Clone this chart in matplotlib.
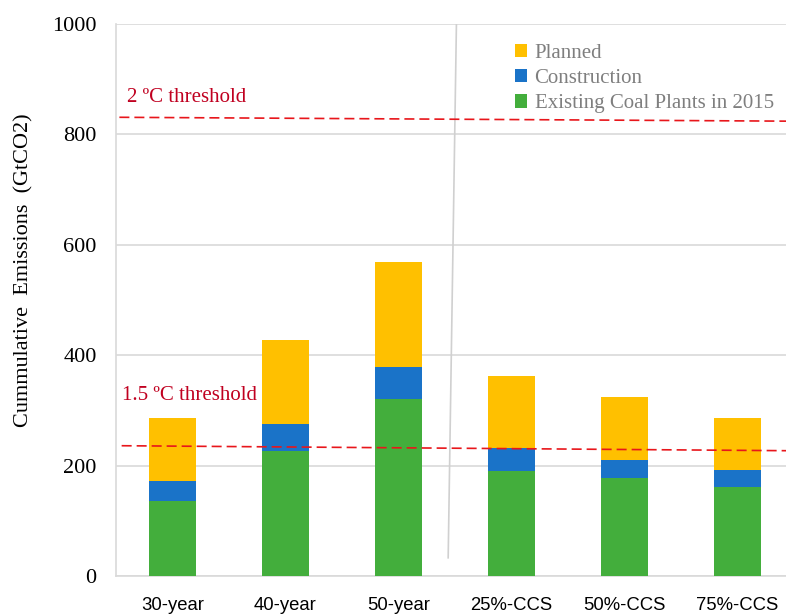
import matplotlib
matplotlib.use("Agg")
import matplotlib.pyplot as plt
import numpy as np

categories = ["30-year", "40-year", "50-year", "25%-CCS", "50%-CCS", "75%-CCS"]
existing = [136, 226, 320, 190, 177, 162]
construction = [36, 49, 59, 42, 33, 30]
planned = [114, 153, 189, 131, 115, 94]
threshold_2c = [831, 824]
threshold_15c = [236, 227]
yticks = [0, 200, 400, 600, 800, 1000]

c_exist = "#43AE3C"
c_constr = "#1A73C8"
c_plan = "#FFC000"
c_thr = "#E8161B"
c_thr_text = "#C00020"
grid_c = "#D9D9D9"

fig = plt.figure(figsize=(7.86, 6.14), dpi=100)
ax = fig.add_axes([116/786, 38/614, (786-116)/786, 552/614])

x = np.arange(len(categories))
w = 0.41
b1 = ax.bar(x, existing, w, color=c_exist, label="Existing Coal Plants in 2015", zorder=3)
b2 = ax.bar(x, construction, w, bottom=existing, color=c_constr, label="Construction", zorder=3)
bottom2 = np.array(existing) + np.array(construction)
b3 = ax.bar(x, planned, w, bottom=bottom2, color=c_plan, label="Planned", zorder=3)

ax.set_xlim(-0.5, 5.43)
ax.set_ylim(0, 1000)
ax.set_yticks(yticks)
ax.yaxis.grid(True, color=grid_c, linewidth=1.2, zorder=0)
ax.set_axisbelow(True)
for s in ["top", "right"]:
    ax.spines[s].set_visible(False)
for s in ["left", "bottom"]:
    ax.spines[s].set_color(grid_c)
    ax.spines[s].set_linewidth(1.2)
ax.tick_params(axis="both", length=0)
ax.tick_params(axis="y", pad=14)
ax.tick_params(axis="x", pad=15)
for lab in ax.get_yticklabels():
    lab.set_fontfamily("Liberation Serif")
    lab.set_fontsize(16)
ax.set_xticks(x)
ax.set_xticklabels(categories, fontfamily="Liberation Sans", fontsize=13.3)

fig.text(24/786, 1-270/614, "Cummulative  Emissions  (GtCO2)", rotation=90,
         fontfamily="Liberation Serif", fontsize=16, ha="center", va="center")

# threshold lines
ax.plot([-0.47, 5.43], threshold_2c, color=c_thr, linestyle=(0, (6, 3)), linewidth=1.2, zorder=4)
ax.plot([-0.45, 5.43], threshold_15c, color=c_thr, linestyle=(0, (6, 3)), linewidth=1.2, zorder=4)
ax.text(-0.40, 866, "2 ºC threshold", color=c_thr_text, fontfamily="Liberation Serif", fontsize=15, va="center")
ax.text(-0.45, 327, "1.5 ºC threshold", color=c_thr_text, fontfamily="Liberation Serif", fontsize=15, va="center")

# divider
ax.plot([2.513, 2.44], [1000, 33], color="#D0D0D0", linewidth=1.2, zorder=2)

leg = ax.legend(handles=[b3, b2, b1], loc="upper left", bbox_to_anchor=(496/786, 1-25/614),
                bbox_transform=fig.transFigure, frameon=False,
                prop={"family": "Liberation Serif", "size": 15},
                handlelength=0.6, handleheight=0.6, handletextpad=0.35, labelspacing=0.3,
                labelcolor="#7F7F7F")

fig.savefig("out.png", dpi=100)
